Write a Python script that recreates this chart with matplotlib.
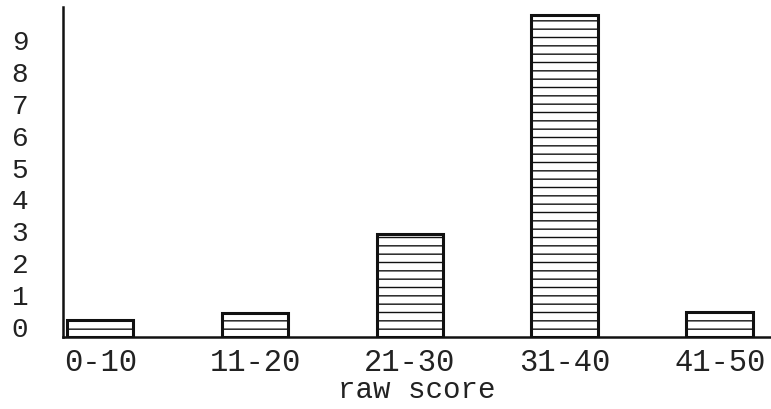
import numpy as np
import matplotlib.pyplot as plt

plt.rcParams['font.family'] = ['Liberation Mono', 'DejaVu Sans Mono']
plt.rcParams['hatch.linewidth'] = 1.0
plt.rcParams['hatch.color'] = '#333333'

# score ranges and bar tops
ranges = ["0-10", "11-20", "21-30", "31-40", "41-50"]
counts = [0.2, 0.4, 2.9, 9.75, 0.45]
yticks = list(range(10))

base = -0.34   # the drawn baseline sits a little under the "0" line

fig = plt.figure(figsize=(7.71, 4.1), dpi=100)
ax = fig.add_axes([0.0817, 0.1756, 0.918, 0.805])

x = np.arange(len(ranges))
vals = np.array(counts)
ax.bar(x, vals - base, bottom=base, width=0.43, color='white',
       edgecolor='#111111', linewidth=2.2, hatch='--')

ax.set_xlim(-0.24, 4.33)
ax.set_ylim(base, 10.0)

for s in ['top', 'right']:
    ax.spines[s].set_visible(False)
for s in ['left', 'bottom']:
    ax.spines[s].set_linewidth(1.8)
    ax.spines[s].set_color('#111111')

ax.set_xticks(x)
ax.set_xticklabels(ranges, fontsize=22, color='#222222')
ax.set_yticks(yticks)
ax.set_yticklabels([str(v) for v in yticks], fontsize=20, color='#222222')
ax.tick_params(axis='both', length=0)
ax.tick_params(axis='y', pad=25)
ax.tick_params(axis='x', pad=7)
ax.set_xlabel("raw score", fontsize=21, color='#222222', labelpad=-1)

fig.savefig("out.png", dpi=100)
